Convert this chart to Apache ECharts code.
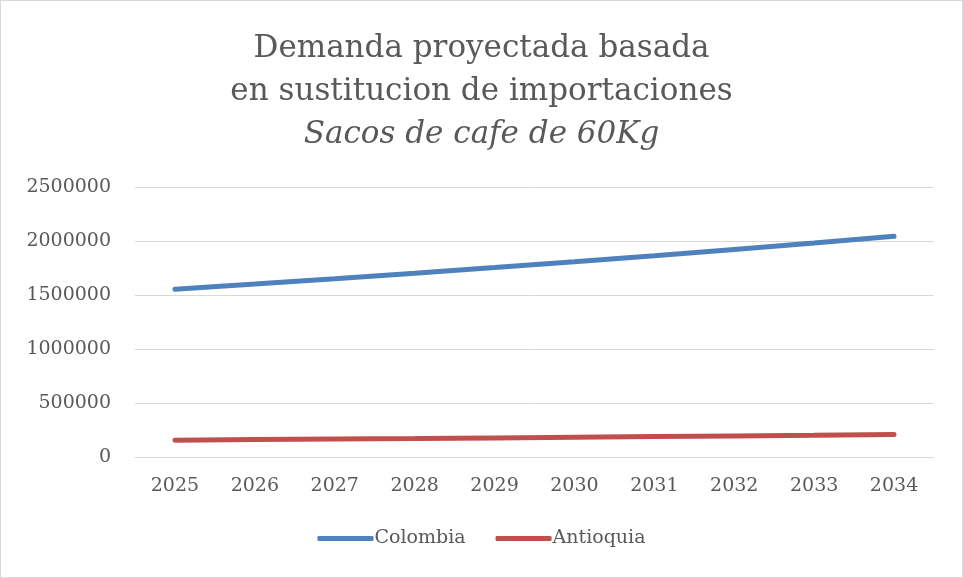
<!DOCTYPE html>
<html>
<head>
<meta charset="utf-8">
<script src="https://cdn.jsdelivr.net/npm/echarts@6/dist/echarts.min.js"></script>
<style>
  html, body { margin: 0; padding: 0; background: #fff; }
  #chart { width: 961px; height: 576px; border: 1px solid #d9d9d9; }
</style>
</head>
<body>
<div id="chart"></div>
<script>
// datos
var years = ['2025', '2026', '2027', '2028', '2029', '2030', '2031', '2032', '2033', '2034'];
var colombia = [1553000, 1601000, 1650000, 1701000, 1754000, 1808000, 1864000, 1922000, 1981000, 2043000];
var antioquia = [155000, 161000, 166000, 171000, 177000, 183000, 189000, 195000, 201000, 208000];
var yTicks = [0, 500000, 1000000, 1500000, 2000000, 2500000];

var FONT = 'DejaVu Serif';
var TXT = '#595959';

var chart = echarts.init(document.getElementById('chart'));

chart.setOption({
  animation: false,
  textStyle: { fontFamily: FONT, color: TXT },
  title: {
    left: 'center',
    top: 21,
    text: '{a|Demanda proyectada basada}\n{a|en sustitucion de importaciones}\n{b|Sacos de cafe de 60Kg}',
    textStyle: {
      rich: {
        a: { fontFamily: FONT, fontSize: 31, color: TXT, lineHeight: 43, fontWeight: 'normal' },
        b: { fontFamily: FONT, fontSize: 31, color: TXT, lineHeight: 43, fontStyle: 'italic', fontWeight: 'normal' }
      }
    }
  },
  legend: {
    bottom: 24,
    left: 'center',
    itemWidth: 56,
    itemHeight: 5,
    itemGap: 30,
    icon: 'roundRect',
    textStyle: { fontFamily: FONT, fontSize: 19, color: TXT, padding: [0, 0, 0, -4] },
    data: ['Colombia', 'Antioquia']
  },
  grid: { left: 134, right: 28, top: 186, bottom: 120, containLabel: false },
  xAxis: {
    type: 'category',
    data: years,
    boundaryGap: true,
    axisLine: { lineStyle: { color: '#d9d9d9', width: 1 } },
    axisTick: { show: false },
    axisLabel: { fontFamily: FONT, fontSize: 19, color: TXT, margin: 20 }
  },
  yAxis: {
    type: 'value',
    min: yTicks[0],
    max: yTicks[yTicks.length - 1],
    interval: 500000,
    axisLine: { show: false },
    axisTick: { show: false },
    axisLabel: {
      fontFamily: FONT, fontSize: 19, color: TXT, margin: 24,
      formatter: function (v) { return String(v); }
    },
    splitLine: { lineStyle: { color: '#d9d9d9', width: 1 } }
  },
  series: [
    {
      name: 'Colombia',
      type: 'line',
      data: colombia,
      symbol: 'none',
      lineStyle: { width: 5, color: '#4f81bd', cap: 'round' },
      itemStyle: { color: '#4f81bd' }
    },
    {
      name: 'Antioquia',
      type: 'line',
      data: antioquia,
      symbol: 'none',
      lineStyle: { width: 5, color: '#c0504d', cap: 'round' },
      itemStyle: { color: '#c0504d' }
    }
  ]
});
</script>
</body>
</html>
